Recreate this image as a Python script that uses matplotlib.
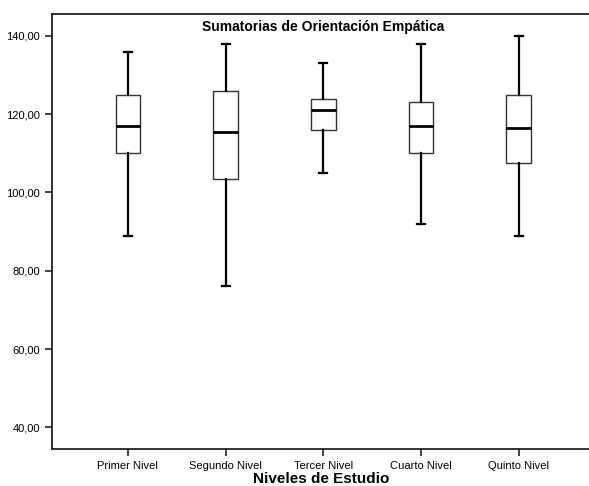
import matplotlib
matplotlib.use("Agg")
import matplotlib.pyplot as plt

# ---------------------------
# Data
# ---------------------------
niveles = ["Primer Nivel", "Segundo Nivel", "Tercer Nivel", "Cuarto Nivel", "Quinto Nivel"]
whisker_low = [89, 76, 105, 92, 89]
q1 = [110, 103.5, 116, 110, 107.5]
medianas = [117, 115.5, 121, 117, 116.5]
q3 = [125, 126, 124, 123, 125]
whisker_high = [136, 138, 133, 138, 140]

y_ticks = [40, 60, 80, 100, 120, 140]

plt.rcParams['font.family'] = ['Liberation Sans', 'DejaVu Sans']

stats = []
for i, name in enumerate(niveles):
    stats.append({
        "label": name,
        "whislo": whisker_low[i],
        "q1": q1[i],
        "med": medianas[i],
        "q3": q3[i],
        "whishi": whisker_high[i],
        "fliers": [],
    })

fig = plt.figure(figsize=(5.89, 4.86), dpi=100)
ax = fig.add_axes([52 / 589, 37 / 486, 539 / 589, 435 / 486])

ax.bxp(stats, widths=0.25, showfliers=False, patch_artist=True,
       boxprops=dict(facecolor="white", edgecolor="#333333", linewidth=1.0),
       medianprops=dict(color="black", linewidth=2.0),
       whiskerprops=dict(color="black", linewidth=1.6),
       capprops=dict(color="black", linewidth=1.6),
       capwidths=0.08)

ax.set_xlim(0.223, 5.74)
ax.set_ylim(34.46, 145.6)

ax.set_yticks(y_ticks)
ax.set_yticklabels([f"{v:.2f}".replace(".", ",") for v in y_ticks], fontsize=8)
ax.set_xticks(range(1, len(niveles) + 1))
ax.set_xticklabels(niveles, fontsize=8)
ax.tick_params(axis="both", length=5, width=1.2, color="#222222")

for side in ["left", "bottom", "top"]:
    ax.spines[side].set_linewidth(1.3)
    ax.spines[side].set_color("#222222")
ax.spines["right"].set_visible(False)

ax.text(3, 142.2, "Sumatorias de Orientación Empática", ha="center", va="center",
        fontsize=10, fontweight="bold")
ax.set_xlabel("Niveles de Estudio", fontsize=11, fontweight="bold", labelpad=1)

fig.savefig("out.png", dpi=100)
